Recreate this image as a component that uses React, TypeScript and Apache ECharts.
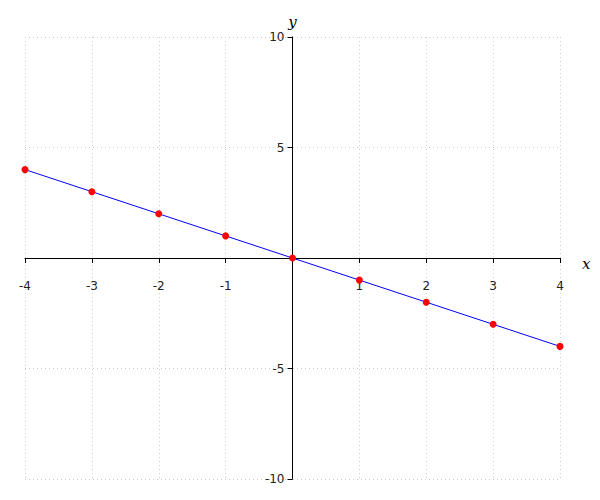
import React, { useEffect, useRef } from "react";
import * as echarts from "echarts";

const xValues = [-4, -3, -2, -1, 0, 1, 2, 3, 4];
const yValues = [4, 3, 2, 1, 0, -1, -2, -3, -4];

export default function App() {
  const ref = useRef<HTMLDivElement>(null);
  useEffect(() => {
    const chart = echarts.init(ref.current!, null, { renderer: "svg" });
    const data = xValues.map((x, i) => [x, yValues[i]]);
    const W = 600, H = 500;
    const left = 25, right = 40, top = 37, bottom = 21;
    const plotW = W - left - right;
    const plotH = H - top - bottom;
    const xMin = -4, xMax = 4, yMin = -10, yMax = 10;
    // offsets placing axes through the origin
    const xOffset = -((0 - yMin) / (yMax - yMin)) * plotH;
    const yOffset = -((0 - xMin) / (xMax - xMin)) * plotW;
    chart.setOption({
      animation: false,
      grid: { left, right, top, bottom, containLabel: false },
      xAxis: {
        type: "value",
        min: xMin,
        max: xMax,
        interval: 1,
        position: "bottom",
        offset: xOffset,
        name: "x",
        nameLocation: "end",
        nameGap: 22,
        nameTextStyle: { fontFamily: "DejaVu Serif", fontStyle: "italic", fontSize: 15, color: "#000", verticalAlign: "top", padding: [-2, 0, 0, 0] },
        axisLine: { onZero: false, lineStyle: { color: "#000", width: 1 } },
        axisTick: { show: true, inside: false, length: 5, lineStyle: { color: "#000" } },
        axisLabel: {
          formatter: (v: number) => (v === 0 ? "" : String(v)),
          fontFamily: "DejaVu Sans",
          fontSize: 12,
          color: "#222",
          margin: 22,
        },
        splitLine: { show: true, lineStyle: { type: [1, 3], color: "#cccccc" } },
      },
      yAxis: {
        type: "value",
        min: yMin,
        max: yMax,
        interval: 5,
        position: "left",
        offset: yOffset,
        name: "y",
        nameLocation: "end",
        nameGap: 8,
        nameTextStyle: { fontFamily: "DejaVu Serif", fontStyle: "italic", fontSize: 15, color: "#000" },
        axisLine: { onZero: false, lineStyle: { color: "#000", width: 1 } },
        axisTick: { show: true, inside: false, length: 5, lineStyle: { color: "#000" } },
        axisLabel: {
          formatter: (v: number) => (v === 0 ? "" : String(v)),
          fontFamily: "DejaVu Sans",
          fontSize: 12,
          color: "#222",
          margin: 8,
        },
        splitLine: { show: true, lineStyle: { type: [1, 3], color: "#cccccc" } },
      },
      series: [
        {
          type: "line",
          data,
          lineStyle: { color: "#0000ff", width: 1 },
          symbol: "circle",
          symbolSize: 7,
          itemStyle: { color: "#ff0000", borderWidth: 0 },
          showSymbol: true,
        },
      ],
    });
    return () => chart.dispose();
  }, []);
  return <div ref={ref} style={{ width: 600, height: 500, position: "absolute", left: 0, top: 0 }} />;
}
